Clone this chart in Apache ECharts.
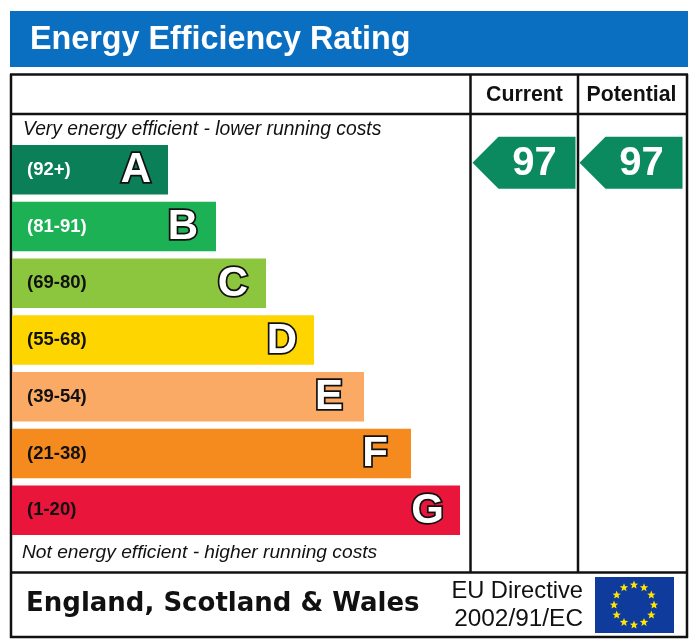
<!DOCTYPE html>
<html>
<head>
<meta charset="utf-8">
<script src="https://cdn.jsdelivr.net/npm/echarts@6/dist/echarts.min.js"></script>
<style>
  html, body { margin: 0; padding: 0; background: #fff; }
  #chart { width: 700px; height: 642px; }
</style>
</head>
<body>
<div id="chart"></div>
<script>
// chart data
const bandLetters = ['A', 'B', 'C', 'D', 'E', 'F', 'G'];
const bandRanges = ['(92+)', '(81-91)', '(69-80)', '(55-68)', '(39-54)', '(21-38)', '(1-20)'];
const barLengths = [156, 204, 254, 302, 352, 399, 448];
const ratingColumns = ['Current', 'Potential'];
const ratingValues = [97, 97];
const ratingBands = ['A', 'A'];

const bandColors = ['#0b8058', '#1cb155', '#8cc63f', '#ffd500', '#fbaa65', '#f58a1f', '#e9153b'];
const rangeColors = ['#fff', '#fff', '#111', '#111', '#111', '#111', '#111'];
const letterInset = [17, 18, 18, 17, 21, 23, 16];
const sans = '"Liberation Sans", Arial, sans-serif';
const frameColor = '#111';

const myChart = echarts.init(document.getElementById('chart'), null, { renderer: 'canvas' });

function frameLine(x1, y1, x2, y2) {
    return {
        type: 'line',
        shape: { x1: x1, y1: y1, x2: x2, y2: y2 },
        style: { stroke: frameColor, lineWidth: 2.5 },
        silent: true
    };
}

function plainText(x, y, text, font, align, fill) {
    return {
        type: 'text',
        x: x,
        y: y,
        style: { text: text, font: font, fill: fill || '#111', align: align || 'left', verticalAlign: 'middle' },
        silent: true
    };
}

// EU flag stars
function flagStars() {
    const stars = [];
    for (let i = 0; i < 12; i++) {
        const a = (i * 30 - 90) * Math.PI / 180;
        const cx = 634 + 20 * Math.cos(a);
        const cy = 605 + 20 * Math.sin(a);
        const points = [];
        for (let k = 0; k < 10; k++) {
            const r = k % 2 === 0 ? 4.4 : 1.9;
            const b = (k * 36 - 90) * Math.PI / 180;
            points.push([cx + r * Math.cos(b), cy + r * Math.sin(b)]);
        }
        stars.push({ type: 'polygon', shape: { points: points }, style: { fill: '#ffe500' }, silent: true });
    }
    return stars;
}

function renderArrow(params, api) {
    const c = api.coord([api.value(0), api.value(1)]);
    const bandW = api.size([1, 0])[0];
    const cy = c[1] - 7.5;
    const left = c[0] - bandW / 2 + 1.5;
    const right = left + 103;
    const notch = left + 26;
    return {
        type: 'group',
        children: [
            {
                type: 'polygon',
                shape: { points: [[left, cy], [notch, cy - 26], [right, cy - 26], [right, cy + 26], [notch, cy + 26]] },
                style: { fill: '#0b8a5f' }
            },
            {
                type: 'text',
                x: left + 62,
                y: cy + 1,
                style: {
                    text: String(api.value(2)),
                    font: 'bold 40px ' + sans,
                    fill: '#fff',
                    align: 'center',
                    verticalAlign: 'middle'
                }
            }
        ]
    };
}

const option = {
    animation: false,
    backgroundColor: '#fff',
    textStyle: { fontFamily: sans },
    title: {
        text: 'Energy Efficiency Rating',
        left: 30,
        top: 24,
        padding: 0,
        textStyle: { color: '#fff', fontSize: 32.3, fontWeight: 'bold', fontFamily: sans }
    },
    grid: [
        { left: 12, top: 141.5, width: 448, height: 397 },
        { left: 471, top: 142, width: 214, height: 397 }
    ],
    xAxis: [
        { type: 'value', gridIndex: 0, min: 0, max: 448, show: false },
        {
            type: 'category',
            gridIndex: 1,
            position: 'top',
            data: ratingColumns,
            axisLine: { show: false },
            axisTick: { show: false },
            axisLabel: { margin: 36, color: '#111', fontSize: 21.3, fontWeight: 'bold', interval: 0 }
        }
    ],
    yAxis: [
        {
            type: 'category',
            gridIndex: 0,
            inverse: true,
            data: bandRanges,
            z: 5,
            axisLine: { show: false },
            axisTick: { show: false },
            axisLabel: {
                inside: true,
                margin: 15,
                fontSize: 18.5,
                fontWeight: 'bold',
                interval: 0,
                color: function (value, index) { return rangeColors[index]; }
            }
        },
        { type: 'category', gridIndex: 1, inverse: true, data: bandLetters, show: false }
    ],
    series: [
        {
            type: 'bar',
            xAxisIndex: 0,
            yAxisIndex: 0,
            barWidth: 49.5,
            data: barLengths.map(function (v, i) {
                return {
                    value: v,
                    itemStyle: { color: bandColors[i] },
                    label: {
                        show: true,
                        position: 'insideRight',
                        distance: letterInset[i],
                        offset: [0, 1],
                        formatter: bandLetters[i],
                        color: '#fff',
                        fontSize: 42,
                        fontWeight: 'bold',
                        textBorderColor: '#111',
                        textBorderWidth: 3.5
                    }
                };
            })
        },
        {
            type: 'custom',
            xAxisIndex: 1,
            yAxisIndex: 1,
            renderItem: renderArrow,
            clip: false,
            data: ratingColumns.map(function (name, i) {
                return [name, ratingBands[i], ratingValues[i]];
            })
        }
    ],
    graphic: [
        { type: 'rect', z: -1, shape: { x: 10, y: 11, width: 678, height: 56 }, style: { fill: '#0a6ec1' }, silent: true },
        frameLine(10, 74.5, 688, 74.5),
        frameLine(10, 114, 688, 114),
        frameLine(10, 572.5, 688, 572.5),
        frameLine(10, 637, 688, 637),
        frameLine(11, 74, 11, 638),
        frameLine(687, 74, 687, 638),
        frameLine(470.5, 74, 470.5, 572),
        frameLine(578, 74, 578, 572),
        plainText(23, 130, 'Very energy efficient - lower running costs', 'italic 19.3px ' + sans),
        plainText(22, 553, 'Not energy efficient - higher running costs', 'italic 19.2px ' + sans),
        plainText(26, 604, 'England, Scotland & Wales', 'bold 26px "DejaVu Sans", Verdana, sans-serif'),
        plainText(583, 591, 'EU Directive', '23.7px ' + sans, 'right'),
        plainText(583, 619, '2002/91/EC', '24.4px ' + sans, 'right'),
        { type: 'rect', shape: { x: 595, y: 577, width: 79, height: 56 }, style: { fill: '#0f3c9c' }, silent: true }
    ].concat(flagStars())
};

myChart.setOption(option);
</script>
</body>
</html>
